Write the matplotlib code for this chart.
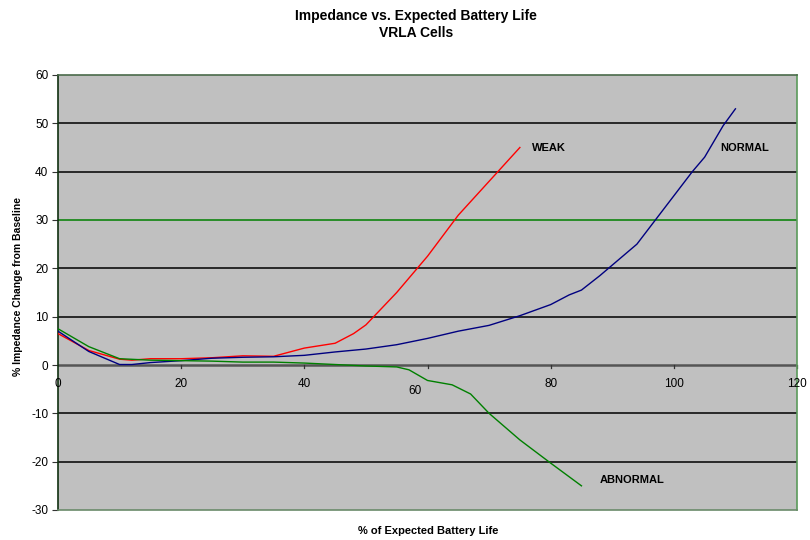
import matplotlib
matplotlib.use("Agg")
import matplotlib.pyplot as plt

plt.rcParams['font.family'] = ['Liberation Sans', 'DejaVu Sans']

# Data
weak_x = [0, 5, 10, 12, 15, 20, 25, 30, 35, 40, 45, 48, 50, 55, 60, 65, 70, 75]
weak_y = [6.5, 3.0, 1.2, 1.0, 1.3, 1.3, 1.5, 1.9, 1.8, 3.5, 4.5, 6.5, 8.3, 15.0, 22.5, 31.0, 38.0, 45.0]

normal_x = [0, 5, 10, 12, 15, 20, 25, 30, 35, 40, 45, 50, 55, 60, 65, 70, 75, 80, 83, 85, 88, 94, 97, 100, 103, 105, 108, 110]
normal_y = [7.0, 2.8, 0.1, 0.1, 0.5, 0.9, 1.4, 1.6, 1.7, 2.0, 2.7, 3.3, 4.2, 5.5, 7.0, 8.2, 10.2, 12.5, 14.5, 15.5, 18.5, 25.0, 30.0, 35.0, 40.0, 43.0, 49.5, 53.0]

abnormal_x = [0, 5, 10, 15, 20, 25, 30, 35, 40, 45, 50, 55, 57, 60, 64, 67, 70, 75, 80, 85]
abnormal_y = [7.5, 3.8, 1.3, 1.0, 0.9, 0.8, 0.6, 0.6, 0.4, 0.1, -0.2, -0.4, -1.0, -3.2, -4.1, -6.0, -10.0, -15.5, -20.3, -25.0]

x_ticks = [0, 20, 40, 60, 80, 100, 120]
y_ticks = [-30, -20, -10, 0, 10, 20, 30, 40, 50, 60]

title = "Impedance vs. Expected Battery Life\nVRLA Cells"
xlabel = "% of Expected Battery Life"
ylabel = "% Impedance Change from Baseline"

fig = plt.figure(figsize=(8.1, 5.4), dpi=100)
ax = fig.add_axes([58/810, 30/540, (797-58)/810, (510-75)/540])
ax.set_facecolor('#c0c0c0')
ax.set_xlim(0, 120)
ax.set_ylim(-30, 60)

# gridlines
for yv in y_ticks:
    if yv in (-30, 60, 0):
        continue
    col = '#008000' if yv == 30 else '#000000'
    ax.axhline(yv, color=col, lw=1.1, zorder=1)
ax.axhline(0, color='#555555', lw=1.8, zorder=1.5)

ax.plot(weak_x, weak_y, color='#ff0000', lw=1.0, zorder=3, solid_joinstyle='round')
ax.plot(normal_x, normal_y, color='#000080', lw=1.0, zorder=3, solid_joinstyle='round')
ax.plot(abnormal_x, abnormal_y, color='#008000', lw=1.0, zorder=3, solid_joinstyle='round')

ax.text(77, 44.9, "WEAK", fontsize=8, fontweight='bold', va='center', ha='left')
ax.text(107.5, 44.9, "NORMAL", fontsize=8, fontweight='bold', va='center', ha='left')
ax.text(88, -23.8, "ABNORMAL", fontsize=8, fontweight='bold', va='center', ha='left')

# y ticks
ax.set_yticks(y_ticks)
ax.set_yticklabels([str(v) for v in y_ticks], fontsize=8.5)
ax.tick_params(axis='y', direction='out', length=4, width=0.8, pad=3, color='#333333')

# x ticks on zero line
ax.set_xticks([])
for xv in x_ticks[1:]:
    ax.plot([xv, xv], [0, -0.7], color='#333333', lw=0.9, zorder=2, clip_on=False)
for xv in x_ticks:
    if xv == 60:
        ax.text(58, -5.3, str(xv), fontsize=8.5, ha='center', va='center')
    else:
        ax.text(xv, -4.0, str(xv), fontsize=8.5, ha='center', va='center')

ax.spines['left'].set_color('#103010')
ax.spines['right'].set_color('#5a9a5a')
ax.spines['top'].set_color('#4a6a4a')
ax.spines['bottom'].set_color('#6a8a6a')
for s in ax.spines.values():
    s.set_linewidth(1.2)

fig.text(416/810, 1 - 9/540, title, fontsize=10, fontweight='bold', ha='center', va='top', linespacing=1.3)
fig.text(428/810, 1 - 531/540, xlabel, fontsize=8, fontweight='bold', ha='center', va='center')
fig.text(18/810, 1 - 287/540, ylabel, fontsize=7.5, fontweight='bold', ha='center', va='center', rotation=90)

fig.savefig("out.png", dpi=100)
